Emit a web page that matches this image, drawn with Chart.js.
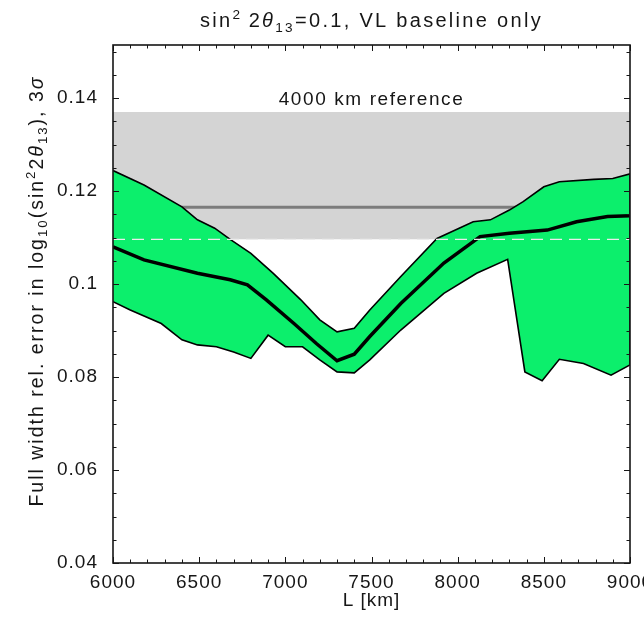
<!DOCTYPE html>
<html>
<head>
<meta charset="utf-8">
<script src="https://cdn.jsdelivr.net/npm/chart.js@4.4.0/dist/chart.umd.min.js"></script>
<style>
  html, body { margin: 0; padding: 0; background: #fff; }
</style>
</head>
<body>
<canvas id="myChart" width="644" height="622"></canvas>
<script>
// upper edge of the 3 sigma band
const upperL   = [6000, 6180, 6400, 6490, 6590, 6680, 6800, 6930, 7090, 7200, 7300, 7400, 7490, 7670, 7880, 8090, 8190, 8300, 8380, 8500, 8590, 8790, 8900, 9000];
const upperErr = [0.1244, 0.1213, 0.1166, 0.1138, 0.1120, 0.1096, 0.1066, 0.1023, 0.0966, 0.0923, 0.0897, 0.0905, 0.0944, 0.1016, 0.1098, 0.1134, 0.1138, 0.1159, 0.1177, 0.1209, 0.1220, 0.1225, 0.1227, 0.1237];

// lower edge of the band
const lowerL   = [6000, 6100, 6280, 6400, 6490, 6600, 6700, 6800, 6900, 7000, 7100, 7200, 7300, 7400, 7490, 7670, 7920, 8110, 8290, 8390, 8490, 8590, 8730, 8890, 9000];
const lowerErr = [0.0962, 0.0944, 0.0915, 0.0880, 0.0869, 0.0865, 0.0854, 0.0840, 0.0890, 0.0865, 0.0865, 0.0837, 0.0811, 0.0809, 0.0837, 0.0901, 0.0980, 0.1023, 0.1053, 0.0811, 0.0792, 0.0838, 0.0829, 0.0804, 0.0826];

// central curve
const centerL   = [6000, 6180, 6490, 6680, 6780, 6890, 7050, 7180, 7300, 7400, 7490, 7670, 7920, 8130, 8300, 8520, 8690, 8870, 9000];
const centerErr = [0.1080, 0.1052, 0.1023, 0.1009, 0.0998, 0.0966, 0.0915, 0.0872, 0.0835, 0.0849, 0.0887, 0.0958, 0.1045, 0.1102, 0.1109, 0.1116, 0.1134, 0.1145, 0.1147];

// 4000 km reference band
const refRange = [6000, 9000];
const refLow = 0.1096;
const refHigh = 0.137;
const refMid = 0.1165;
const refLabel = "4000 km reference";
const refLabelPos = [7500, 0.1396];

// axes
const xMajor = [6000, 6500, 7000, 7500, 8000, 8500, 9000];
const yMajor = [0.04, 0.06, 0.08, 0.1, 0.12, 0.14];
const xLimits = [6000, 9000];
const yLimits = [0.04, 0.1514];

const FAMILY = '"Liberation Sans", Arial, Helvetica, sans-serif';
const INK = '#161616';

function pts(xs, ys) {
    return xs.map((x, i) => ({x: x, y: ys[i]}));
}

// band outline: along the top, then back along the bottom
const bandShape = pts(upperL, upperErr).concat(pts(lowerL, lowerErr).reverse());
const refLine = v => refRange.map(x => ({x: x, y: v}));

// draws a line of text with sub/superscripts, centered on (cx, cy)
function richText(ctx, parts, cx, cy, size, spacing) {
    ctx.letterSpacing = spacing + 'px';
    const fontFor = p => {
        const small = p[1] === 'sup' || p[1] === 'sub';
        return (p[1] === 'it' ? 'italic ' : '') + (small ? size * 0.68 : size) + 'px ' + FAMILY;
    };
    let total = 0;
    const widths = parts.map(p => {
        ctx.font = fontFor(p);
        const w = ctx.measureText(p[0]).width;
        total += w;
        return w;
    });
    let x = cx - total / 2;
    const base = cy + size * 0.36;
    ctx.textBaseline = 'alphabetic';
    ctx.textAlign = 'left';
    parts.forEach((p, i) => {
        ctx.font = fontFor(p);
        let dy = 0;
        if (p[1] === 'sup') dy = -size * 0.42;
        if (p[1] === 'sub') dy = size * 0.22;
        ctx.fillText(p[0], x, base + dy);
        x += widths[i];
    });
}

const titleParts = [["sin", ""], ["2", "sup"], ["\u20092", ""], ["\u03b8", "it"], ["13", "sub"], ["=0.1, VL baseline only", ""]];
const yTitleParts = [["Full width rel. error in log", ""], ["10", "sub"], ["(sin", ""], ["2", "sup"], ["2", ""], ["\u03b8", "it"], ["13", "sub"], ["), 3", ""], ["\u03c3", "it"]];

const decorations = {
    id: 'decorations',
    beforeDraw(chart) {
        // wider letter spacing for the tick labels
        chart.ctx.letterSpacing = '1px';
    },
    afterDatasetsDraw(chart) {
        const {ctx, chartArea: a, scales: {x, y}} = chart;
        ctx.save();
        ctx.strokeStyle = INK;
        ctx.lineWidth = 1;
        ctx.beginPath();
        // small ticks every 100 km, bigger at the labelled ones
        for (let v = xLimits[0]; v <= xLimits[1]; v += 100) {
            const px = Math.round(x.getPixelForValue(v)) + 0.5;
            const len = v % 500 === 0 ? 6 : 3.5;
            ctx.moveTo(px, a.bottom); ctx.lineTo(px, a.bottom - len);
            ctx.moveTo(px, a.top); ctx.lineTo(px, a.top + len);
        }
        for (let k = 0; k <= 22; k++) {
            const v = yLimits[0] + k * 0.005;
            if (v > yLimits[1]) break;
            const py = Math.round(y.getPixelForValue(v)) + 0.5;
            const len = k % 4 === 0 ? 6 : 3.5;
            ctx.moveTo(a.left, py); ctx.lineTo(a.left + len, py);
            ctx.moveTo(a.right, py); ctx.lineTo(a.right - len, py);
        }
        ctx.stroke();
        ctx.lineWidth = 1.6;
        ctx.strokeRect(a.left, a.top, a.width, a.height);

        ctx.fillStyle = INK;
        ctx.letterSpacing = '1.6px';
        ctx.font = '19px ' + FAMILY;
        ctx.textAlign = 'center';
        ctx.textBaseline = 'middle';
        ctx.fillText(refLabel, x.getPixelForValue(refLabelPos[0]), y.getPixelForValue(refLabelPos[1]));

        richText(ctx, titleParts, (a.left + a.right) / 2, 20, 20, 2.3);

        ctx.translate(36, 291);
        ctx.rotate(-Math.PI / 2);
        richText(ctx, yTitleParts, 0, 0, 19.5, 2.0);
        ctx.restore();
    }
};

new Chart("myChart", {
    type: "line",
    data: {
        datasets: [{
            // lower edge of the reference band
            data: refLine(refLow),
            borderColor: '#ececec',
            borderWidth: 1.2,
            borderDash: [12, 7],
            fill: false
        }, {
            data: pts(centerL, centerErr),
            borderColor: '#000',
            borderWidth: 3.5,
            fill: false
        }, {
            data: bandShape,
            borderColor: '#000',
            borderWidth: 1.6,
            backgroundColor: '#0cef6c',
            fill: 'shape'
        }, {
            data: refLine(refMid),
            borderColor: '#7c7c7c',
            borderWidth: 3,
            fill: false
        }, {
            data: refLine(refHigh),
            borderWidth: 0,
            borderColor: 'rgba(0,0,0,0)',
            backgroundColor: '#d4d4d4',
            fill: {value: refLow}
        }]
    },
    options: {
        responsive: false,
        animation: false,
        layout: {padding: {top: 45, right: 14, left: 0, bottom: 0}},
        elements: {point: {radius: 0}, line: {tension: 0}},
        plugins: {legend: {display: false}, tooltip: {enabled: false}},
        scales: {
            x: {
                type: 'linear',
                min: xLimits[0],
                max: xLimits[1],
                grid: {display: false},
                border: {display: false},
                afterBuildTicks: s => { s.ticks = xMajor.map(v => ({value: v})); },
                afterFit: s => { s.height = 59; s.paddingLeft = 0; s.paddingRight = 0; },
                ticks: {
                    color: INK,
                    font: {family: FAMILY, size: 19},
                    padding: 0,
                    maxRotation: 0,
                    callback: v => String(v)
                },
                title: {
                    display: true,
                    text: 'L [km]',
                    color: INK,
                    font: {family: FAMILY, size: 19},
                    padding: {top: 0, bottom: 10}
                }
            },
            y: {
                type: 'linear',
                min: yLimits[0],
                max: yLimits[1],
                grid: {display: false},
                border: {display: false},
                afterBuildTicks: s => { s.ticks = yMajor.map(v => ({value: v})); },
                afterFit: s => { s.width = 113; s.paddingTop = 0; s.paddingBottom = 0; },
                ticks: {
                    color: INK,
                    font: {family: FAMILY, size: 19},
                    padding: 7,
                    callback: v => String(+v.toFixed(3))
                }
            }
        }
    },
    plugins: [decorations]
});
</script>
</body>
</html>
